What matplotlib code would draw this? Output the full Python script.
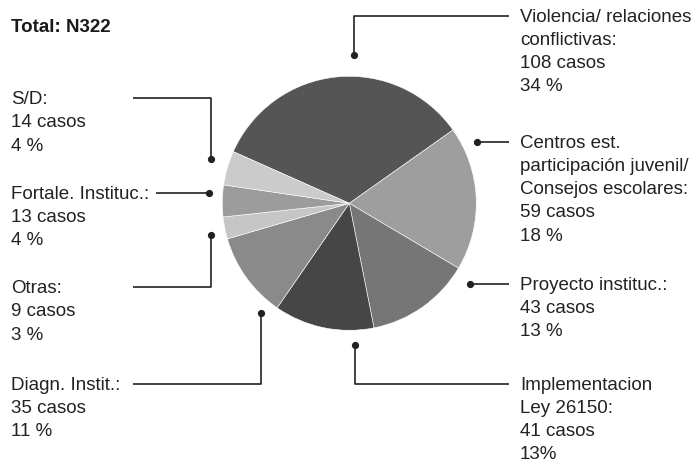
import matplotlib

matplotlib.use("Agg")
import matplotlib.pyplot as plt  # noqa: E402

plt.rcParams["font.family"] = ["Liberation Sans", "DejaVu Sans"]

W, H = 694, 462

categories = [
    "Violencia/ relaciones\nconflictivas:",
    "Centros est.\nparticipación juvenil/\nConsejos escolares:",
    "Proyecto instituc.:",
    "Implementacion\nLey 26150:",
    "Diagn. Instit.:",
    "Otras:",
    "Fortale. Instituc.:",
    "S/D:",
]
casos = [108, 59, 43, 41, 35, 9, 13, 14]
porcentajes = ["34 %", "18 %", "13 %", "13%", "11 %", "3 %", "4 %", "4 %"]
colores = ["#555555", "#9e9e9e", "#767676", "#464646", "#8a8a8a", "#c6c6c6", "#9c9c9c", "#cbcbcb"]
total = sum(casos)

# label layout (pixel coords, y from top): text x, first-line y, leader path
layout = [
    (520, 16, [(509, 15.7), (354.5, 15.7), (354.5, 55.3)]),
    (520, 142, [(509, 142.3), (477.3, 142.3)]),
    (520, 284, [(509, 284), (470, 284)]),
    (520, 384, [(509, 384), (354.7, 384), (354.7, 344.7)]),
    (11, 384, [(133, 384), (261.3, 384), (261.3, 313.3)]),
    (11, 287.5, [(133, 287.3), (211, 287.3), (211, 235)]),
    (11, 193.3, [(156, 193.3), (209, 193.3)]),
    (11, 98.5, [(133, 98.3), (211, 98.3), (211, 159.3)]),
]


def Y(y):
    return H - y


fig = plt.figure(figsize=(W / 100, H / 100), dpi=100)
ax = fig.add_axes([0, 0, 1, 1])
ax.axis("off")

ax.pie(casos, colors=colores, center=(349.3, Y(203.3)), radius=127,
       startangle=156, counterclock=False,
       wedgeprops={"edgecolor": "white", "linewidth": 0.4})
ax.set_xlim(0, W)
ax.set_ylim(0, H)
ax.set_aspect("equal")

ax.text(11, Y(31.5), f"Total: N{total}", fontsize=13.5, fontweight="bold", color="#1a1a1a", va="baseline")

step = 23.3
for cat, n, pct, (tx, ty, path) in zip(categories, casos, porcentajes, layout):
    lines = cat.split("\n") + [f"{n} casos", pct]
    for i, line in enumerate(lines):
        ax.text(tx, Y(ty + 5.5 + i * step), line, fontsize=13.5, color="#222222", va="baseline")
    xs = [p[0] for p in path]
    ys = [Y(p[1]) for p in path]
    ax.plot(xs, ys, color="#222222", linewidth=1.2, solid_capstyle="butt")
    ax.plot(xs[-1], ys[-1], "o", color="#222222", markersize=4.2)

fig.savefig("out.png", dpi=100)
